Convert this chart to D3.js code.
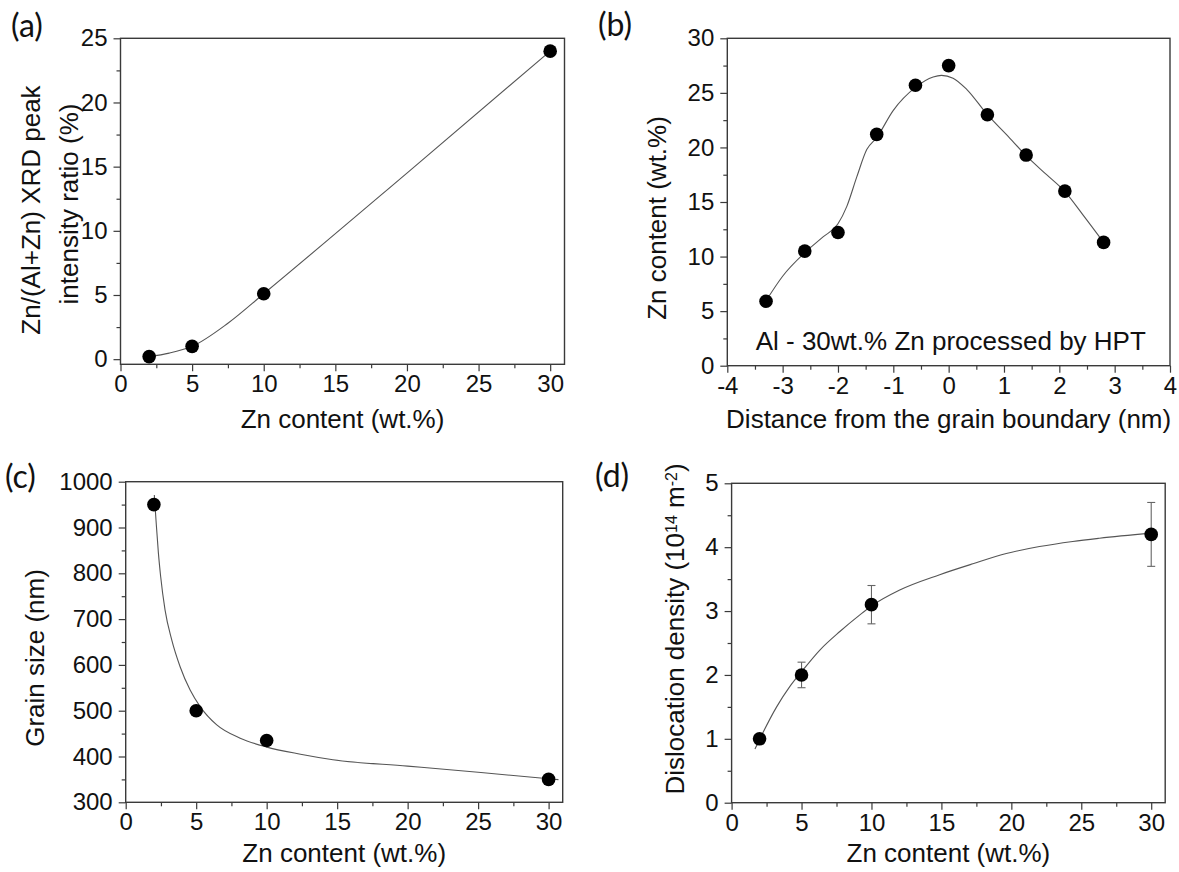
<!DOCTYPE html>
<html>
<head>
<meta charset="utf-8">
<script src="https://cdn.jsdelivr.net/npm/d3@7"></script>
<style>
  body { margin: 0; background: #fff; }
  svg text { font-family: "Liberation Sans", Arial, sans-serif; fill: #111; }
  svg text.tag { font-family: Lato, "Open Sans", sans-serif; }
</style>
</head>
<body>
<svg width="1179" height="872"></svg>
<script>
// (a) XRD peak ratio vs Zn content
const aZn = [2, 5, 10, 30];
const aRatio = [0.2, 1.0, 5.1, 24.0];
const aFitX = [2, 3.4, 5, 7.5, 10, 20, 30];
const aFitY = [0.2, 0.47, 1.0, 2.8, 5.1, 14.5, 24.0];

// (b) Zn content across the grain boundary
const bDist = [-3.3, -2.6, -2.0, -1.3, -0.6, 0, 0.7, 1.4, 2.1, 2.8];
const bZn = [5.9, 10.5, 12.2, 21.2, 25.7, 27.5, 23.0, 19.3, 16.0, 11.3];
const bFitX = [-3.3, -3.0, -2.6, -2.27, -2.0, -1.84, -1.66, -1.48, -1.3, -1.0, -0.6, -0.28, -0.13, 0.08, 0.33, 0.7, 1.05, 1.4, 1.77, 2.1, 2.43, 2.8];
const bFitY = [5.95, 8.2, 10.35, 11.8, 13.0, 14.6, 17.3, 19.8, 20.9, 23.4, 25.5, 26.45, 26.6, 26.35, 25.3, 23.0, 21.15, 19.25, 17.5, 15.95, 13.8, 11.3];

// (c) grain size vs Zn content
const cZn = [2, 5, 10, 30];
const cGrain = [950, 500, 435, 350];
const cFitX = [2.03, 2.15, 2.32, 2.48, 2.79, 3.27, 3.86, 4.57, 5.28, 6.46, 8.12, 9.96, 12.4, 14.7, 20, 25.2, 30, 30.7];
const cFitY = [971, 916, 844, 793, 720, 654, 596, 545, 509, 469, 440, 421, 405, 393, 379, 365, 351.5, 349.5];

// (d) dislocation density vs Zn content
const dZn = [2, 5, 10, 30];
const dDensity = [1.0, 2.0, 3.1, 4.2];
const dErr = [0, 0.2, 0.3, 0.5];
const dFitX = [1.67, 2, 3.22, 4.17, 5, 6.31, 7.74, 9.17, 10, 12.02, 14.88, 17.25, 19.64, 22.01, 24.39, 26.3, 30];
const dFitY = [0.84, 0.99, 1.5, 1.82, 2.05, 2.39, 2.68, 2.94, 3.08, 3.33, 3.57, 3.74, 3.9, 4.01, 4.09, 4.14, 4.22];

// tick values
const znTicks = [0, 5, 10, 15, 20, 25, 30];
const znMinor = [2.5, 7.5, 12.5, 17.5, 22.5, 27.5];
const aYTicks = [0, 5, 10, 15, 20, 25];
const aYMinor = [2.5, 7.5, 12.5, 17.5, 22.5];
const bXTicks = [-4, -3, -2, -1, 0, 1, 2, 3, 4];
const bXMinor = [-3.5, -2.5, -1.5, -0.5, 0.5, 1.5, 2.5, 3.5];
const bYTicks = [0, 5, 10, 15, 20, 25, 30];
const bYMinor = [2.5, 7.5, 12.5, 17.5, 22.5, 27.5];
const cYTicks = [300, 400, 500, 600, 700, 800, 900, 1000];
const cYMinor = [350, 450, 550, 650, 750, 850, 950];
const dYTicks = [0, 1, 2, 3, 4, 5];
const dYMinor = [0.5, 1.5, 2.5, 3.5, 4.5];

const svg = d3.select('svg');
const AXIS = '#3a3a3a';

function panel(cfg) {
    const x = d3.scaleLinear().domain(cfg.xDomain).range([cfg.left, cfg.right]);
    const y = d3.scaleLinear().domain(cfg.yDomain).range([cfg.bottom, cfg.top]);
    const g = svg.append('g');

    // axes (major + minor)
    const xa = g.append('g').attr('transform', `translate(0,${cfg.bottom})`)
        .call(d3.axisBottom(x).tickValues(cfg.xTicks).tickSize(7).tickPadding(4).tickFormat(d3.format('')));
    g.append('g').attr('transform', `translate(0,${cfg.bottom})`)
        .call(d3.axisBottom(x).tickValues(cfg.xMinor).tickSize(4).tickFormat(''));
    g.append('g').attr('transform', `translate(${cfg.left},0)`)
        .call(d3.axisLeft(y).tickValues(cfg.yTicks).tickSize(7).tickPadding(6).tickFormat(d3.format('')));
    g.append('g').attr('transform', `translate(${cfg.left},0)`)
        .call(d3.axisLeft(y).tickValues(cfg.yMinor).tickSize(4).tickFormat(''));
    g.selectAll('.domain').remove();
    g.selectAll('.tick line').attr('stroke', AXIS).attr('stroke-width', 1.2);
    g.selectAll('.tick text').attr('font-size', 24).attr('fill', '#111');
    xa.selectAll('.tick text').text(d => d < 0 ? '-' + Math.abs(d) : d);

    g.append('rect')
        .attr('x', cfg.left).attr('y', cfg.top)
        .attr('width', cfg.right - cfg.left).attr('height', cfg.bottom - cfg.top)
        .attr('fill', 'none').attr('stroke', AXIS).attr('stroke-width', 1.4);

    // fitted curve
    const fit = cfg.fitX.map((v, i) => [v, cfg.fitY[i]]);
    g.append('path')
        .datum(fit)
        .attr('fill', 'none').attr('stroke', '#555').attr('stroke-width', 1.1)
        .attr('d', d3.line().x(d => x(d[0])).y(d => y(d[1])).curve(d3.curveMonotoneX));

    const pts = cfg.xs.map((v, i) => ({ x: v, y: cfg.ys[i], e: cfg.err ? cfg.err[i] : 0 }));

    // error bars
    const eb = g.selectAll('.err').data(pts.filter(d => d.e > 0)).enter().append('g')
        .attr('stroke', '#666').attr('stroke-width', 1.1);
    eb.append('line').attr('x1', d => x(d.x)).attr('x2', d => x(d.x))
        .attr('y1', d => y(d.y - d.e)).attr('y2', d => y(d.y + d.e));
    eb.append('line').attr('x1', d => x(d.x) - 4).attr('x2', d => x(d.x) + 4)
        .attr('y1', d => y(d.y + d.e)).attr('y2', d => y(d.y + d.e));
    eb.append('line').attr('x1', d => x(d.x) - 4).attr('x2', d => x(d.x) + 4)
        .attr('y1', d => y(d.y - d.e)).attr('y2', d => y(d.y - d.e));

    g.selectAll('.dot').data(pts).enter().append('circle')
        .attr('cx', d => x(d.x)).attr('cy', d => y(d.y)).attr('r', 6.8).attr('fill', '#000');

    // x title
    g.append('text').attr('x', (cfg.left + cfg.right) / 2).attr('y', cfg.xTitleY)
        .attr('text-anchor', 'middle').attr('font-size', 26).text(cfg.xTitle);

    // panel tag
    g.append('text').attr('class', 'tag').attr('x', cfg.tag[0]).attr('y', cfg.tag[1])
        .attr('font-size', 32).text(cfg.tagText);

    return { g, x, y };
}

function yTitle(cx, cy) {
    return svg.append('text')
        .attr('transform', `translate(${cx},${cy}) rotate(-90)`)
        .attr('text-anchor', 'middle').attr('font-size', 26).attr('dy', '0.35em');
}

panel({
    left: 120.5, right: 564.5, top: 38.3, bottom: 364.3,
    xDomain: [0, 31], yDomain: [-0.4, 25],
    xTicks: znTicks, xMinor: znMinor, yTicks: aYTicks, yMinor: aYMinor,
    xs: aZn, ys: aRatio, fitX: aFitX, fitY: aFitY,
    xTitle: 'Zn content (wt.%)', xTitleY: 428, tag: [11, 37], tagText: '(a)'
});
yTitle(31, 210).text('Zn/(Al+Zn) XRD peak');
yTitle(69, 204).text('intensity ratio (%)');

const B = panel({
    left: 727.3, right: 1170, top: 38.3, bottom: 365.7,
    xDomain: [-4, 4], yDomain: [0, 30],
    xTicks: bXTicks, xMinor: bXMinor, yTicks: bYTicks, yMinor: bYMinor,
    xs: bDist, ys: bZn, fitX: bFitX, fitY: bFitY,
    xTitle: 'Distance from the grain boundary (nm)', xTitleY: 428, tag: [598, 36], tagText: '(b)'
});
yTitle(657, 218).text('Zn content (wt.%)');
B.g.append('text').attr('x', 755.7).attr('y', 350).attr('font-size', 26)
    .text('Al - 30wt.% Zn processed by HPT');

panel({
    left: 125.7, right: 562.7, top: 481.7, bottom: 802.3,
    xDomain: [0, 31], yDomain: [300, 1000],
    xTicks: znTicks, xMinor: znMinor, yTicks: cYTicks, yMinor: cYMinor,
    xs: cZn, ys: cGrain, fitX: cFitX, fitY: cFitY,
    xTitle: 'Zn content (wt.%)', xTitleY: 862, tag: [5, 488], tagText: '(c)'
});
yTitle(35, 658).text('Grain size (nm)');

panel({
    left: 731.6, right: 1165.2, top: 483.3, bottom: 802.7,
    xDomain: [0, 31], yDomain: [0, 5],
    xTicks: znTicks, xMinor: znMinor, yTicks: dYTicks, yMinor: dYMinor,
    xs: dZn, ys: dDensity, err: dErr, fitX: dFitX, fitY: dFitY,
    xTitle: 'Zn content (wt.%)', xTitleY: 862, tag: [595, 487], tagText: '(d)'
});
const dt = yTitle(675, 629);
dt.append('tspan').text('Dislocation density (10');
dt.append('tspan').attr('font-size', 16).attr('baseline-shift', '45%').text('14');
dt.append('tspan').text(' m');
dt.append('tspan').attr('font-size', 16).attr('baseline-shift', '45%').text('-2');
dt.append('tspan').text(')');
</script>
</body>
</html>
